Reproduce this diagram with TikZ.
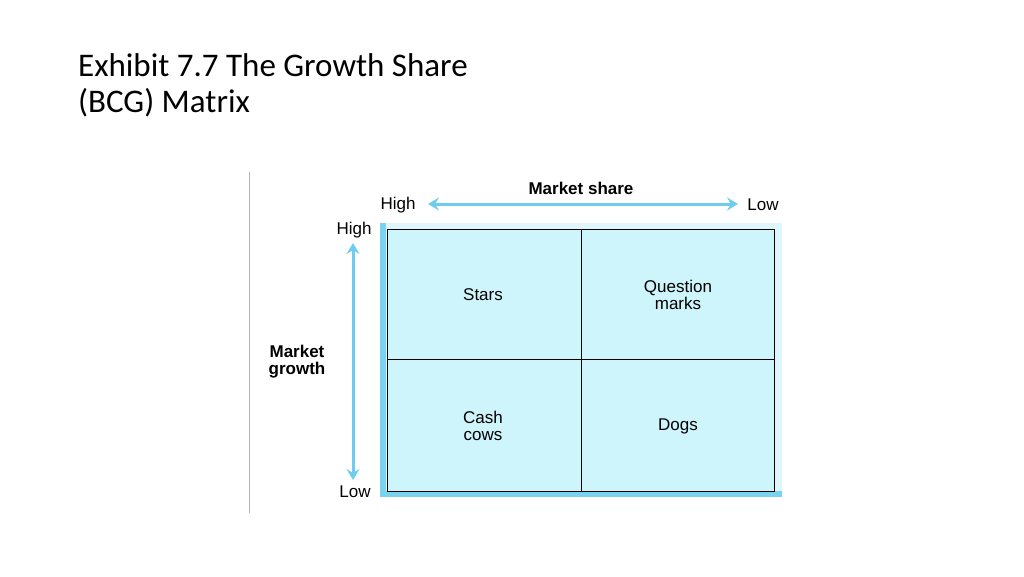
\documentclass[tikz,border=0pt]{standalone}
\usepackage{fontspec}
\setmainfont{Liberation Sans}
\newfontfamily\titlefont{Carlito}
\usetikzlibrary{arrows.meta}
\definecolor{cellcyan}{RGB}{206,244,252}
\definecolor{framecyan}{RGB}{222,246,252}
\definecolor{edgecyan}{RGB}{120,210,240}
\definecolor{arrowcyan}{RGB}{110,205,238}
\begin{document}
\begin{tikzpicture}[x=1pt,y=-1pt,
  lbl/.style={font=\fontsize{17}{17}\selectfont, align=center, inner sep=0pt},
  axislbl/.style={lbl, font=\fontsize{17}{17}\selectfont\bfseries},
  axisarrow/.style={arrowcyan, line width=3pt, {Stealth[length=11pt,width=13pt,inset=4pt]}-{Stealth[length=11pt,width=13pt,inset=4pt]}}]
\useasboundingbox (0,0) rectangle (1024,576);
% title
\node[anchor=west, inner sep=0pt, align=left, font=\titlefont\fontsize{33}{36}\selectfont] (title) at (78,85)
  {Exhibit 7.7 The Growth Share\\(BCG) Matrix};
\draw[gray!60, line width=1pt] (249,172) -- (249,513);
% matrix frame
\fill[framecyan] (380,223) rectangle (782,497);
\fill[edgecyan] (380,223) rectangle (386,497);
\fill[edgecyan] (380,491) rectangle (782,497);
\draw[fill=cellcyan, line width=1pt] (387,229) rectangle (774,491);
\draw[line width=1pt] (581,229) -- (581,491);
\draw[line width=1pt] (387,359) -- (774,359);
% cells
\node[lbl] (stars) at (483,295) {Stars};
\node[lbl] (question) at (678,295) {Question\\marks};
\node[lbl] (cash) at (483,426) {Cash\\cows};
\node[lbl] (dogs) at (678,426) {Dogs};
% axes
\node[axislbl] (share) at (581,188) {Market share};
\node[lbl] (shigh) at (398,205) {High};
\node[lbl] (slow) at (763,205) {Low};
\node[lbl] (ghigh) at (354,230) {High};
\node[lbl] (glow) at (355,492) {Low};
\node[axislbl] (growth) at (297,362) {Market\\growth};
\coordinate (sleft) at (428,204);
\coordinate (sright) at (738,204);
\coordinate (gtop) at (353,243);
\coordinate (gbot) at (353,480);
\draw[axisarrow] (sleft) -- (sright);
\draw[axisarrow] (gtop) -- (gbot);
\end{tikzpicture}
\end{document}
